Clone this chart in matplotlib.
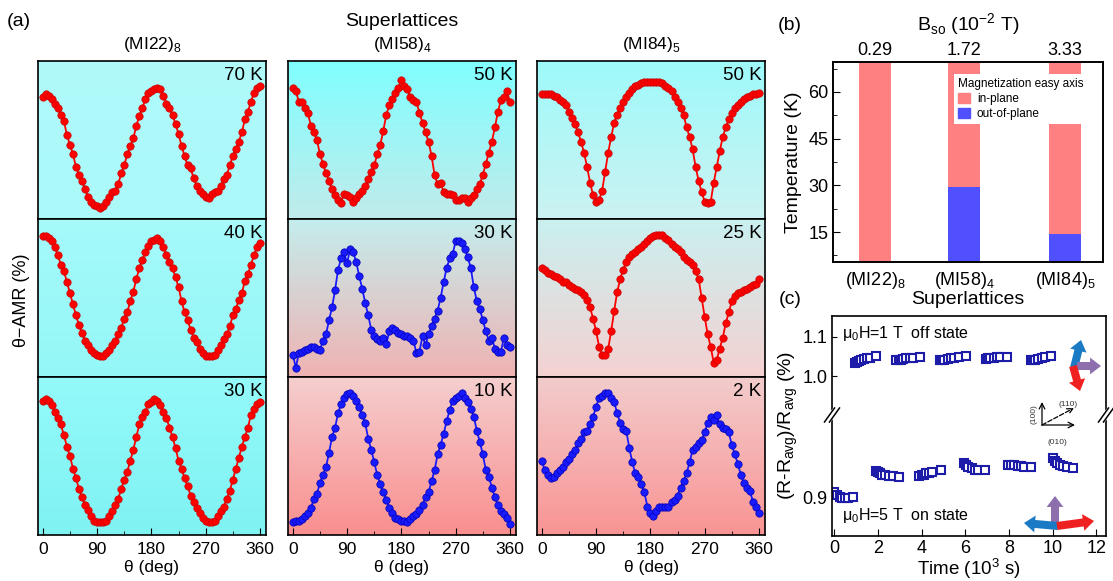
import numpy as np
import matplotlib.pyplot as plt
from matplotlib.patches import Patch, FancyArrowPatch

plt.rcParams['font.family'] = ['Liberation Sans', 'DejaVu Sans']
plt.rcParams['mathtext.fontset'] = 'custom'
plt.rcParams['mathtext.rm'] = 'Liberation Sans'
plt.rcParams['axes.linewidth'] = 1.2

# ---------------- data: panel (a), normalized theta-AMR, 5 deg steps ----------------
theta = np.arange(0, 361, 5)

amr_mi22_70k = [0.77, 0.79, 0.78, 0.76, 0.73, 0.70, 0.66, 0.62, 0.53, 0.47,
                0.41, 0.33, 0.28, 0.24, 0.19, 0.14, 0.11, 0.09, 0.08, 0.07,
                0.08, 0.11, 0.14, 0.17, 0.18, 0.22, 0.29, 0.34, 0.41, 0.46,
                0.51, 0.59, 0.65, 0.70, 0.76, 0.80, 0.81, 0.82, 0.83, 0.82,
                0.78, 0.73, 0.70, 0.66, 0.60, 0.54, 0.46, 0.40, 0.34, 0.32,
                0.26, 0.21, 0.18, 0.16, 0.14, 0.13, 0.16, 0.17, 0.18, 0.21,
                0.25, 0.28, 0.34, 0.40, 0.44, 0.49, 0.55, 0.63, 0.68, 0.74,
                0.80, 0.83, 0.84]
amr_mi22_40k = [0.89, 0.89, 0.88, 0.86, 0.82, 0.77, 0.71, 0.67, 0.60, 0.53,
                0.46, 0.39, 0.33, 0.28, 0.23, 0.20, 0.17, 0.15, 0.14, 0.13,
                0.13, 0.15, 0.17, 0.20, 0.23, 0.27, 0.31, 0.37, 0.41, 0.48,
                0.54, 0.62, 0.69, 0.74, 0.79, 0.83, 0.86, 0.87, 0.88, 0.86,
                0.82, 0.77, 0.73, 0.69, 0.63, 0.57, 0.48, 0.41, 0.36, 0.30,
                0.25, 0.22, 0.18, 0.15, 0.13, 0.13, 0.13, 0.14, 0.17, 0.20,
                0.24, 0.27, 0.32, 0.39, 0.43, 0.49, 0.53, 0.61, 0.65, 0.71,
                0.77, 0.82, 0.85]
amr_mi22_30k = [0.85, 0.86, 0.85, 0.82, 0.78, 0.74, 0.70, 0.63, 0.56, 0.50,
                0.42, 0.36, 0.29, 0.24, 0.19, 0.16, 0.12, 0.09, 0.08, 0.08,
                0.08, 0.09, 0.12, 0.15, 0.19, 0.23, 0.29, 0.35, 0.40, 0.47,
                0.54, 0.62, 0.70, 0.75, 0.78, 0.83, 0.84, 0.86, 0.85, 0.82,
                0.78, 0.74, 0.68, 0.62, 0.55, 0.47, 0.42, 0.36, 0.31, 0.25,
                0.21, 0.17, 0.14, 0.11, 0.09, 0.08, 0.08, 0.09, 0.12, 0.15,
                0.18, 0.23, 0.28, 0.35, 0.42, 0.49, 0.56, 0.62, 0.68, 0.76,
                0.80, 0.83, 0.84]
amr_mi58_50k = [0.83, 0.81, 0.74, 0.74, 0.70, 0.67, 0.59, 0.55, 0.50, 0.41,
                0.35, 0.29, 0.24, 0.19, 0.15, 0.12, 0.10, 0.16, 0.15, 0.14,
                0.11, 0.13, 0.16, 0.18, 0.21, 0.25, 0.30, 0.34, 0.41, 0.47,
                0.56, 0.66, 0.72, 0.76, 0.80, 0.83, 0.88, 0.84, 0.82, 0.77,
                0.75, 0.74, 0.67, 0.61, 0.55, 0.49, 0.40, 0.28, 0.22, 0.23,
                0.17, 0.16, 0.16, 0.15, 0.12, 0.12, 0.13, 0.13, 0.11, 0.13,
                0.15, 0.19, 0.22, 0.28, 0.35, 0.42, 0.49, 0.58, 0.68, 0.75,
                0.77, 0.81, 0.74]
amr_mi58_30k = [0.14, 0.06, 0.15, 0.16, 0.17, 0.18, 0.19, 0.19, 0.18, 0.17,
                0.23, 0.27, 0.36, 0.44, 0.55, 0.68, 0.75, 0.79, 0.72, 0.81,
                0.79, 0.73, 0.64, 0.56, 0.47, 0.39, 0.30, 0.26, 0.24, 0.23,
                0.25, 0.21, 0.29, 0.31, 0.30, 0.28, 0.27, 0.26, 0.26, 0.25,
                0.23, 0.15, 0.16, 0.26, 0.20, 0.27, 0.32, 0.37, 0.42, 0.50,
                0.60, 0.69, 0.75, 0.78, 0.86, 0.86, 0.85, 0.81, 0.76, 0.69,
                0.57, 0.48, 0.43, 0.36, 0.29, 0.23, 0.25, 0.18, 0.16, 0.16,
                0.25, 0.20, 0.19]
amr_mi58_10k = [0.08, 0.09, 0.09, 0.10, 0.12, 0.14, 0.17, 0.23, 0.26, 0.33,
                0.38, 0.43, 0.52, 0.62, 0.68, 0.77, 0.83, 0.87, 0.89, 0.90,
                0.88, 0.85, 0.81, 0.76, 0.71, 0.61, 0.54, 0.46, 0.38, 0.32,
                0.27, 0.22, 0.17, 0.14, 0.11, 0.10, 0.09, 0.09, 0.08, 0.10,
                0.12, 0.13, 0.16, 0.19, 0.24, 0.27, 0.34, 0.41, 0.51, 0.57,
                0.64, 0.72, 0.79, 0.85, 0.87, 0.88, 0.90, 0.87, 0.84, 0.80,
                0.75, 0.66, 0.59, 0.51, 0.41, 0.37, 0.30, 0.24, 0.19, 0.15,
                0.13, 0.11, 0.07]
amr_mi84_50k = [0.79, 0.79, 0.79, 0.79, 0.78, 0.77, 0.75, 0.74, 0.72, 0.68,
                0.64, 0.60, 0.55, 0.49, 0.42, 0.33, 0.23, 0.15, 0.11, 0.12,
                0.18, 0.30, 0.42, 0.52, 0.61, 0.66, 0.70, 0.74, 0.77, 0.80,
                0.82, 0.84, 0.85, 0.86, 0.87, 0.87, 0.87, 0.87, 0.87, 0.87,
                0.86, 0.84, 0.83, 0.81, 0.77, 0.74, 0.70, 0.66, 0.58, 0.52,
                0.44, 0.33, 0.24, 0.17, 0.11, 0.10, 0.11, 0.23, 0.33, 0.43,
                0.52, 0.58, 0.63, 0.67, 0.70, 0.72, 0.74, 0.76, 0.77, 0.78,
                0.79, 0.79, 0.80]
amr_mi84_25k = [0.69, 0.68, 0.66, 0.65, 0.64, 0.63, 0.62, 0.60, 0.60, 0.58,
                0.57, 0.56, 0.55, 0.54, 0.52, 0.49, 0.44, 0.37, 0.29, 0.19,
                0.14, 0.14, 0.18, 0.29, 0.42, 0.54, 0.62, 0.68, 0.73, 0.76,
                0.78, 0.79, 0.81, 0.82, 0.84, 0.86, 0.88, 0.89, 0.90, 0.90,
                0.90, 0.88, 0.87, 0.84, 0.82, 0.81, 0.79, 0.76, 0.74, 0.73,
                0.71, 0.67, 0.62, 0.50, 0.38, 0.27, 0.19, 0.09, 0.11, 0.18,
                0.25, 0.34, 0.41, 0.48, 0.51, 0.53, 0.54, 0.55, 0.56, 0.57,
                0.58, 0.59, 0.62]
amr_mi84_2k = [0.47, 0.41, 0.38, 0.36, 0.37, 0.39, 0.41, 0.43, 0.46, 0.48,
               0.51, 0.54, 0.58, 0.61, 0.65, 0.66, 0.70, 0.75, 0.81, 0.87,
               0.88, 0.90, 0.90, 0.87, 0.84, 0.77, 0.71, 0.67, 0.66, 0.55,
               0.46, 0.39, 0.37, 0.32, 0.27, 0.18, 0.14, 0.12, 0.15, 0.18,
               0.18, 0.18, 0.18, 0.21, 0.22, 0.25, 0.30, 0.34, 0.39, 0.46,
               0.54, 0.56, 0.58, 0.60, 0.65, 0.71, 0.75, 0.73, 0.76, 0.70,
               0.68, 0.67, 0.65, 0.57, 0.51, 0.45, 0.38, 0.33, 0.30, 0.28,
               0.21, 0.18, 0.14]

sample_titles = [r'(MI22)$_\mathregular{8}$', r'(MI58)$_\mathregular{4}$', r'(MI84)$_\mathregular{5}$']
temps = [['70 K', '50 K', '50 K'],
         ['40 K', '30 K', '25 K'],
         ['30 K', '10 K', '2 K']]
curves = [[amr_mi22_70k, amr_mi58_50k, amr_mi84_50k],
          [amr_mi22_40k, amr_mi58_30k, amr_mi84_25k],
          [amr_mi22_30k, amr_mi58_10k, amr_mi84_2k]]
in_plane = [[True, True, True],
            [True, False, True],
            [True, False, False]]

# ---------------- data: panel (b) ----------------
b_so = [0.29, 1.72, 3.33]
b_so_labels = ['0.29', '1.72', '3.33']
sl_labels = [r'(MI22)$_\mathregular{8}$', r'(MI58)$_\mathregular{4}$', r'(MI84)$_\mathregular{5}$']
t_out_of_plane = [0, 29.5, 14.5]
t_top = 70

# ---------------- data: panel (c) ----------------
t_off = [0.95, 1.05, 1.15, 1.25, 1.35, 1.5, 1.65, 1.9,
         2.85, 2.95, 3.05, 3.15, 3.3, 3.45, 3.6, 3.95,
         4.85, 4.95, 5.05, 5.2, 5.35, 5.5, 5.7, 6.05,
         6.95, 7.05, 7.15, 7.3, 7.45, 7.6, 7.9,
         9.0, 9.1, 9.2, 9.35, 9.5, 9.65, 9.95]
r_off = [1.033, 1.036, 1.039, 1.041, 1.043, 1.045, 1.046, 1.050,
         1.040, 1.041, 1.042, 1.043, 1.045, 1.046, 1.047, 1.049,
         1.040, 1.041, 1.042, 1.044, 1.045, 1.047, 1.048, 1.051,
         1.044, 1.045, 1.046, 1.047, 1.048, 1.049, 1.049,
         1.040, 1.041, 1.042, 1.044, 1.046, 1.048, 1.052]
t_on = [0.0, 0.12, 0.25, 0.38, 0.5, 0.65, 0.85,
        1.9, 2.0, 2.1, 2.2, 2.35, 2.5, 2.7, 2.95,
        3.9, 4.0, 4.1, 4.2, 4.35, 4.5, 4.9,
        5.95, 6.05, 6.15, 6.3, 6.45, 6.6, 6.9,
        7.95, 8.1, 8.25, 8.4, 8.55, 8.7, 9.0,
        10.0, 10.1, 10.2, 10.35, 10.5, 10.65, 10.95]
r_on = [0.904, 0.902, 0.900, 0.899, 0.899, 0.899, 0.900,
        0.921, 0.920, 0.919, 0.918, 0.918, 0.917, 0.917, 0.916,
        0.917, 0.918, 0.918, 0.919, 0.919, 0.920, 0.922,
        0.927, 0.926, 0.924, 0.923, 0.922, 0.922, 0.922,
        0.926, 0.926, 0.926, 0.925, 0.925, 0.924, 0.924,
        0.931, 0.929, 0.927, 0.926, 0.925, 0.924, 0.923]

W, H = 1113, 581
fig = plt.figure(figsize=(W / 100, H / 100), dpi=100)


def px_axes(x0, y0, x1, y1):
    return fig.add_axes([x0 / W, 1 - y1 / H, (x1 - x0) / W, (y1 - y0) / H])


def ftext(x, y, s, **kw):
    fig.text(x / W, 1 - y / H, s, **kw)


# background gradients (top colour, bottom colour) per panel [row][col]
bg = [[((0.69, 0.98, 0.98), (0.67, 0.98, 0.98)), ((0.50, 1.0, 1.0), (0.76, 0.92, 0.92)), ((0.62, 0.98, 0.98), (0.80, 0.95, 0.95))],
      [((0.65, 0.98, 0.98), (0.58, 0.97, 0.97)), ((0.77, 0.93, 0.93), (0.94, 0.70, 0.70)), ((0.79, 0.94, 0.94), (0.96, 0.82, 0.82))],
      [((0.58, 0.98, 0.98), (0.50, 0.95, 0.95)), ((0.96, 0.81, 0.81), (0.98, 0.56, 0.56)), ((0.95, 0.80, 0.80), (0.98, 0.58, 0.58))]]

col_x = [(38, 266), (288, 516), (537, 765)]
row_y = [(61, 219), (219, 377), (377, 535)]

for r in range(3):
    for c in range(3):
        ax = px_axes(col_x[c][0], row_y[r][0], col_x[c][1], row_y[r][1])
        top, bot = np.array(bg[r][c][0]), np.array(bg[r][c][1])
        f = np.linspace(0, 1, 100)[:, None, None]
        grad = top[None, None, :] * (1 - f) + bot[None, None, :] * f
        ax.imshow(grad, extent=[0, 1, 0, 1], transform=ax.transAxes,
                  aspect='auto', zorder=0)
        col = '#ff0000' if in_plane[r][c] else '#1a1aff'
        edge = '#c80000' if in_plane[r][c] else '#0000b0'
        ax.plot(theta, curves[r][c], '-o', color=col, lw=1.3, ms=5.3,
                mfc=col, mec=edge, mew=0.5, zorder=3)
        ax.set_xlim(-8, 370)
        ax.set_ylim(0, 1)
        ax.set_yticks([])
        ax.text(0.985, 0.965, temps[r][c], transform=ax.transAxes,
                ha='right', va='top', fontsize=13.5, zorder=4)
        if r == 2:
            ax.set_xticks([0, 90, 180, 270, 360])
            ax.set_xticks([45, 135, 225, 315], minor=True)
            ax.tick_params(axis='x', which='both', direction='in', labelsize=12.5, pad=5)
            ax.tick_params(axis='x', which='major', length=5)
            ax.tick_params(axis='x', which='minor', length=3)
            ax.set_xlabel('θ (deg)', fontsize=12.5, labelpad=2)
        else:
            ax.set_xticks([])

for c in range(3):
    ftext((col_x[c][0] + col_x[c][1]) / 2, 45, sample_titles[c], ha='center', va='center', fontsize=12.5)
ftext(402, 22, 'Superlattices', ha='center', va='center', fontsize=14)
ftext(19, 22, '(a)', ha='center', va='center', fontsize=14)
ftext(22, 300, 'θ−AMR (%)', ha='center', va='center', rotation=90, fontsize=13)

# ---------------- panel (b) ----------------
red_bar = '#ff8080'
blue_bar = '#5050ff'
axb = px_axes(833, 62, 1103, 262)
axb.bar(b_so, [t_top] * 3, width=0.52, color=red_bar, zorder=1)
axb.bar(b_so, t_out_of_plane, width=0.52, color=blue_bar, zorder=2)
axb.set_xlim(-0.38, 3.94)
axb.set_ylim(5.4, 69.6)
axb.set_yticks([15, 30, 45, 60])
axb.set_yticks([7.5, 22.5, 37.5, 52.5, 67.5], minor=True)
axb.tick_params(axis='y', which='both', direction='in', labelsize=13)
axb.tick_params(axis='y', which='major', length=5)
axb.tick_params(axis='y', which='minor', length=3)
axb.set_xticks(b_so)
axb.set_xticklabels(sl_labels, fontsize=13)
axb.tick_params(axis='x', length=0, pad=6)
axb.set_xlabel('Superlattices', fontsize=14, labelpad=0)
axb.set_ylabel('Temperature (K)', fontsize=14, labelpad=4)
axt = axb.twiny()
axt.set_xlim(axb.get_xlim())
axt.set_xticks(b_so)
axt.set_xticklabels(b_so_labels, fontsize=13)
axt.tick_params(axis='x', length=0, pad=2)
axt.set_xlabel(r'B$_\mathregular{so}$ (10$^\mathregular{-2}$ T)', fontsize=14, labelpad=8)
leg = axb.legend(handles=[Patch(color=red_bar, label='in-plane'),
                          Patch(color=blue_bar, label='out-of-plane')],
                 title='Magnetization easy axis', loc='upper right',
                 bbox_to_anchor=(0.965, 0.97), fontsize=8.5, title_fontsize=8.5,
                 frameon=True, fancybox=False, edgecolor='none', framealpha=1,
                 handlelength=1.0, handleheight=0.9, handletextpad=0.6,
                 borderpad=0.35, labelspacing=0.25)
leg._legend_box.align = 'left'
leg.set_zorder(5)
ftext(790, 25, '(b)', ha='center', va='center', fontsize=14)

# ---------------- panel (c) ----------------
sq_col = '#1c1ca8'
axu = px_axes(832, 316, 1106, 415)
axl = px_axes(832, 415, 1106, 536)
axu.plot(t_off, r_off, 's', ms=6, mfc='white', mec=sq_col, mew=1.5)
axl.plot(t_on, r_on, 's', ms=6, mfc='white', mec=sq_col, mew=1.5)
for a in (axu, axl):
    a.set_xlim(-0.1, 12.45)
    a.tick_params(which='both', direction='in', labelsize=13)
axu.set_ylim(0.9008, 1.1527)
axu.set_yticks([1.0, 1.1])
axu.set_yticklabels(['1.0', '1.1'])
axu.set_xticks([])
axu.spines['bottom'].set_visible(False)
axl.set_ylim(0.8688, 0.9656)
axl.set_yticks([0.9])
axl.set_yticklabels(['0.9'])
axl.set_xticks([0, 2, 4, 6, 8, 10, 12])
axl.tick_params(axis='x', length=5, pad=3)
axl.spines['top'].set_visible(False)
axl.set_xlabel(r'Time (10$^\mathregular{3}$ s)', fontsize=13.5, labelpad=-1)
ftext(790, 300, '(c)', ha='center', va='center', fontsize=14)
ftext(788, 425, r'(R-R$_\mathregular{avg}$)/R$_\mathregular{avg}$ (%)', ha='center', va='center',
      rotation=90, fontsize=14)
axu.text(0.035, 0.82, r'μ$_\mathregular{0}$H=1 T  off state', transform=axu.transAxes,
         fontsize=11.5, va='center')
axl.text(0.035, 0.17, r'μ$_\mathregular{0}$H=5 T  on state', transform=axl.transAxes,
         fontsize=11.5, va='center')

# overlay in pixel coordinates for break marks, arrows and sketch
ov = fig.add_axes([0, 0, 1, 1], zorder=10)
ov.set_xlim(0, W)
ov.set_ylim(H, 0)
ov.axis('off')
for xb in (832, 1106):
    ov.plot([xb - 5, xb + 5], [415 + 6, 415 - 6], color='white', lw=5, solid_capstyle='butt')
    for d in (-2.5, 2.5):
        ov.plot([xb - 5 + d, xb + 5 + d], [415 + 7, 415 - 7], color='black', lw=1.1)

arrow_blue = '#1b7ac4'
arrow_purple = '#8d6fae'
arrow_red = '#ee2020'


def thick_arrow(x0, y0, x1, y1, color):
    ov.add_patch(FancyArrowPatch((x0, y0), (x1, y1),
                                 arrowstyle='simple,head_length=0.75,head_width=1.15,tail_width=0.55',
                                 mutation_scale=10.5, color=color, lw=0,
                                 shrinkA=0, shrinkB=0))


thick_arrow(1074, 368, 1081, 340, arrow_blue)
thick_arrow(1077, 366, 1101, 366, arrow_purple)
thick_arrow(1073, 366, 1080, 391, arrow_red)
thick_arrow(1055, 524, 1055, 496, arrow_purple)
thick_arrow(1058, 526, 1024, 523, arrow_blue)
thick_arrow(1057, 526, 1094, 521, arrow_red)

ov.annotate('', xy=(1042, 402), xytext=(1042, 425),
            arrowprops=dict(arrowstyle='->', lw=0.9, color='black', shrinkA=0, shrinkB=0))
ov.annotate('', xy=(1075, 425), xytext=(1042, 425),
            arrowprops=dict(arrowstyle='->', lw=0.9, color='black', shrinkA=0, shrinkB=0))
ov.annotate('', xy=(1074, 408), xytext=(1042, 425),
            arrowprops=dict(arrowstyle='->', lw=0.9, color='black', ls='--', shrinkA=0, shrinkB=0))
ov.text(1068, 405, '(110)', fontsize=6, ha='center', va='center', color='#333333')
ov.text(1034, 414, '(100)', fontsize=6, ha='center', va='center', rotation=90, color='#333333')
ov.text(1057, 443, '(010)', fontsize=6, ha='center', va='center', color='#333333')

fig.savefig('out.png', dpi=100)
